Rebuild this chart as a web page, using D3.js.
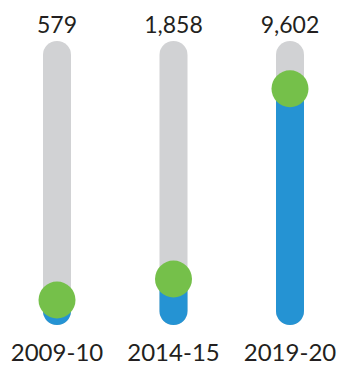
<!DOCTYPE html>
<html>
<head>
<meta charset="utf-8">
<script src="https://cdn.jsdelivr.net/npm/d3@7"></script>
<style>
  html, body { margin: 0; padding: 0; background: #fff; }
</style>
</head>
<body>
<div id="chart"></div>
<script>
// data
const periods = ["2009-10", "2014-15", "2019-20"];
const values = [579, 1858, 9602];
const valueLabels = ["579", "1,858", "9,602"];

const width = 339, height = 365;
const trackTop = 55, trackBottom = 311;

const svg = d3.select("#chart").append("svg")
    .attr("width", width)
    .attr("height", height)
    .attr("font-family", "Lato, 'Open Sans', sans-serif");

const x = d3.scalePoint()
    .domain(periods)
    .range([57, 290]);

// the original is not proportional, so a piecewise scale follows it
const y = d3.scaleLinear()
    .domain([0, 2000, 10000])
    .range([309.5, 276.7, 78.9]);

const data = periods.map((p, i) => ({ period: p, value: values[i], label: valueLabels[i] }));

const g = svg.append("g");

// grey tracks
g.selectAll(".track")
    .data(data)
    .join("line")
    .attr("class", "track")
    .attr("x1", d => x(d.period))
    .attr("x2", d => x(d.period))
    .attr("y1", trackTop)
    .attr("y2", trackBottom)
    .attr("stroke", "#d1d2d4")
    .attr("stroke-width", 28)
    .attr("stroke-linecap", "round");

// blue fill
g.selectAll(".fill")
    .data(data)
    .join("line")
    .attr("class", "fill")
    .attr("x1", d => x(d.period))
    .attr("x2", d => x(d.period))
    .attr("y1", d => y(d.value))
    .attr("y2", trackBottom)
    .attr("stroke", "#2593d3")
    .attr("stroke-width", 28)
    .attr("stroke-linecap", "round");

// green markers
g.selectAll(".dot")
    .data(data)
    .join("circle")
    .attr("class", "dot")
    .attr("cx", d => x(d.period))
    .attr("cy", d => y(d.value))
    .attr("r", 18.5)
    .attr("fill", "#75c04a");

// value labels
g.selectAll(".value")
    .data(data)
    .join("text")
    .attr("class", "value")
    .attr("x", d => x(d.period))
    .attr("y", 33)
    .attr("text-anchor", "middle")
    .attr("font-size", 23)
    .attr("fill", "#231f20")
    .text(d => d.label);

// period labels
g.selectAll(".period")
    .data(data)
    .join("text")
    .attr("class", "period")
    .attr("x", d => x(d.period))
    .attr("y", 361)
    .attr("text-anchor", "middle")
    .attr("font-size", 24)
    .attr("fill", "#231f20")
    .text(d => d.period);
</script>
</body>
</html>
